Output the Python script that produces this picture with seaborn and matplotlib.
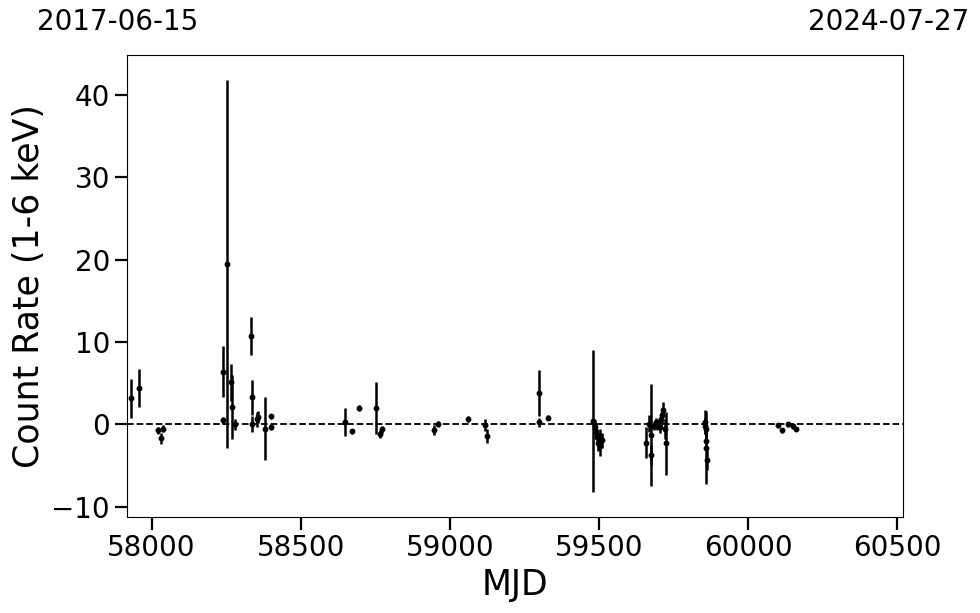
import numpy as np
import pandas as pd
import matplotlib
matplotlib.use("Agg")
import matplotlib.pyplot as plt
import seaborn as sns

# ========== Light curve values ==========
mjd = [57930, 57958, 58022, 58031, 58038,
       58238, 58240, 58252, 58268, 58269, 58279,
       58333, 58338, 58338, 58355, 58358, 58379, 58400, 58401,
       58650, 58672, 58694, 58754, 58765, 58773,
       58947, 58961, 59061, 59118, 59125,
       59298, 59299, 59329,
       59480, 59486, 59490, 59494, 59498, 59502, 59505, 59510,
       59657, 59668, 59674, 59675, 59684, 59690, 59695, 59700, 59704,
       59708, 59712, 59716, 59720, 59724,
       59855, 59857, 59858, 59859, 59860, 59861,
       60101, 60115, 60134, 60149, 60160]
rate = [3.15, 4.4, -0.7, -1.7, -0.5,
        0.5, 6.4, 19.5, 5.1, 2.1, 0.0,
        10.7, 3.3, 0.05, 0.6, 0.9, -0.5, 1.0, -0.3,
        0.25, -0.8, 2.0, 2.0, -1.2, -0.6,
        -0.7, 0.05, 0.65, -0.1, -1.4,
        3.8, 0.25, 0.8,
        0.4, -0.3, -0.9, -1.5, -2.2, -2.6, -1.4, -1.9,
        -2.2, 0.1, -1.3, -3.7, -0.2, 0.3, -0.1, 0.2, -0.3,
        0.6, 1.1, 1.8, -0.6, -2.3,
        0.3, -0.2, -0.6, -2.0, -2.8, -4.3,
        -0.1, -0.7, 0.0, -0.2, -0.55]
rate_err = [2.4, 2.3, 0.4, 0.7, 0.4,
            0.4, 3.1, 22.3, 2.2, 3.9, 0.7,
            2.3, 2.1, 1.0, 0.9, 0.7, 3.8, 0.3, 0.4,
            1.7, 0.3, 0.4, 3.1, 0.5, 0.4,
            0.6, 0.4, 0.4, 0.7, 0.9,
            2.8, 0.5, 0.3,
            8.6, 0.8, 0.9, 1.0, 1.0, 1.2, 0.8, 0.9,
            1.9, 1.0, 6.2, 1.2, 0.5, 0.5, 0.6, 0.4, 0.7,
            0.8, 0.9, 0.9, 1.2, 3.8,
            1.5, 1.0, 0.8, 1.0, 4.4, 1.2,
            0.3, 0.3, 0.3, 0.3, 0.3]

mjd_start, mjd_end = 57919, 60518
date_labels = ["2017-06-15", "2024-07-27"]

df = pd.DataFrame({"MJD": mjd, "rate": rate, "err": rate_err})

# ========== Plot ==========
sns.set_style("ticks")
plt.rcParams['font.family'] = ['DejaVu Sans']
plt.rcParams['text.color'] = 'black'
plt.rcParams['axes.labelcolor'] = 'black'
plt.rcParams['xtick.color'] = 'black'
plt.rcParams['ytick.color'] = 'black'

fig, ax = plt.subplots(figsize=(9.8, 6.13), dpi=100)
fig.subplots_adjust(left=0.130, right=0.921, top=0.910, bottom=0.157)

ax.errorbar(df["MJD"], df["rate"], yerr=df["err"], fmt='none',
            ecolor='black', elinewidth=1.8, capsize=0, zorder=2)
sns.scatterplot(data=df, x="MJD", y="rate", ax=ax, color='black',
                s=18, edgecolor='black', linewidth=0, zorder=3)
ax.axhline(0, color='black', linestyle='--', linewidth=1.3, zorder=1)

ax.set_xlim(mjd_start, mjd_end)
ax.set_ylim(-11.2, 44.8)
ax.set_xticks([58000, 58500, 59000, 59500, 60000, 60500])
ax.set_yticks([-10, 0, 10, 20, 30, 40])

ax.set_xlabel("MJD", fontsize=25)
ax.set_ylabel("Count Rate (1-6 keV)", fontsize=25)
ax.tick_params(axis='both', which='major', labelsize=20,
               length=9, width=1.6, direction='out', colors='black',
               bottom=True, left=True)

for spine in ax.spines.values():
    spine.set_visible(True)
    spine.set_color('black')
    spine.set_linewidth(0.8)

# Start / end dates above the panel
fig.text(118 / 980, 1 - 22 / 613, date_labels[0], fontsize=20,
         ha='center', va='center')
fig.text(889 / 980, 1 - 22 / 613, date_labels[1], fontsize=20,
         ha='center', va='center')

plt.savefig("out.png", dpi=100)
plt.close()
